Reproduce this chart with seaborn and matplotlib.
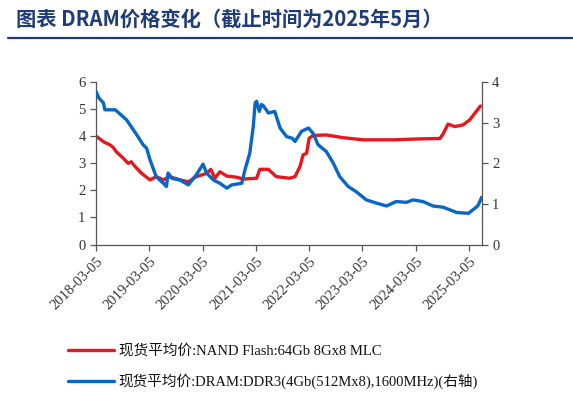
import numpy as np
import pandas as pd
import matplotlib
matplotlib.use("Agg")
import matplotlib.pyplot as plt
import matplotlib.dates as mdates
from matplotlib.lines import Line2D
import seaborn as sns

# NAND Flash 64Gb 8Gx8 MLC spot average price (left axis)
nand_dates = ["2018-03-05", "2018-04-25", "2018-06-10", "2018-07-01", "2018-07-22",
              "2018-09-08", "2018-10-12", "2018-11-02", "2018-11-28", "2019-01-12",
              "2019-03-10", "2019-04-22", "2019-06-10", "2019-07-22", "2019-10-01",
              "2019-11-28", "2020-01-22", "2020-04-01", "2020-04-30", "2020-05-28",
              "2020-07-01", "2020-08-18", "2020-10-22", "2020-12-08", "2021-03-10",
              "2021-04-01", "2021-05-30", "2021-07-22", "2021-10-22", "2021-11-28",
              "2022-01-01", "2022-01-22", "2022-02-15", "2022-03-05", "2022-04-01",
              "2022-07-01", "2022-10-22", "2023-03-10", "2023-10-01", "2024-03-10",
              "2024-08-18", "2024-09-10", "2024-10-12", "2024-11-28", "2025-01-22",
              "2025-03-10", "2025-04-22", "2025-05-22"]
nand_price = [4.01, 3.80, 3.68, 3.59, 3.43,
              3.19, 3.00, 3.06, 2.88, 2.63,
              2.39, 2.51, 2.39, 2.51, 2.39,
              2.32, 2.51, 2.63, 2.78, 2.45,
              2.69, 2.53, 2.49, 2.42, 2.45,
              2.78, 2.78, 2.51, 2.45, 2.51,
              2.88, 3.31, 3.37, 3.93, 4.03,
              4.05, 3.95, 3.87, 3.87, 3.90,
              3.92, 4.11, 4.45, 4.36, 4.42,
              4.61, 4.91, 5.12]

# DRAM DDR3 4Gb spot average price (right axis)
dram_dates = ["2018-03-05", "2018-03-25", "2018-04-25", "2018-05-05", "2018-07-15",
              "2018-10-01", "2018-12-10", "2019-01-22", "2019-02-15", "2019-03-10",
              "2019-04-22", "2019-06-10", "2019-07-01", "2019-07-12", "2019-08-08",
              "2019-10-01", "2019-11-28", "2020-01-22", "2020-03-08", "2020-04-01",
              "2020-05-18", "2020-07-01", "2020-08-18", "2020-09-20", "2020-11-28",
              "2020-12-20", "2021-01-22", "2021-02-15", "2021-02-28", "2021-03-10",
              "2021-03-28", "2021-04-12", "2021-04-25", "2021-05-30", "2021-07-12",
              "2021-08-18", "2021-10-01", "2021-11-08", "2021-11-28", "2022-01-12",
              "2022-02-28", "2022-04-01", "2022-05-05", "2022-07-01", "2022-08-18",
              "2022-10-01", "2022-11-28", "2023-01-22", "2023-04-01", "2023-06-10",
              "2023-08-18", "2023-10-22", "2024-01-01", "2024-02-15", "2024-04-22",
              "2024-07-01", "2024-09-08", "2024-12-10", "2025-03-01", "2025-04-12",
              "2025-05-05", "2025-05-30"]
dram_price = [3.77, 3.61, 3.49, 3.32, 3.32,
              3.07, 2.70, 2.46, 2.37, 2.09,
              1.67, 1.51, 1.43, 1.76, 1.63,
              1.59, 1.47, 1.72, 1.98, 1.76,
              1.59, 1.51, 1.39, 1.47, 1.51,
              1.84, 2.25, 2.91, 3.49, 3.53,
              3.28, 3.45, 3.42, 3.24, 3.28,
              2.87, 2.66, 2.62, 2.54, 2.79,
              2.87, 2.74, 2.46, 2.29, 2.00,
              1.67, 1.43, 1.30, 1.10, 1.02,
              0.95, 1.06, 1.04, 1.10, 1.06,
              0.95, 0.92, 0.79, 0.77, 0.89,
              0.96, 1.16]

tick_dates = ["2018-03-05", "2019-03-05", "2020-03-05", "2021-03-05",
              "2022-03-05", "2023-03-05", "2024-03-05", "2025-03-05"]

title = "图表 DRAM价格变化（截止时间为2025年5月）"
label_nand = "现货平均价:NAND Flash:64Gb 8Gx8 MLC"
label_dram = "现货平均价:DRAM:DDR3(4Gb(512Mx8),1600MHz)(右轴)"

RED = "#E8161F"
BLUE = "#0866C6"
NAVY = "#1F3C7A"
TXT = "#333333"

nand = pd.DataFrame({"date": pd.to_datetime(nand_dates), "price": nand_price})
dram = pd.DataFrame({"date": pd.to_datetime(dram_dates), "price": dram_price})

sns.set_style("ticks")
plt.rcParams["font.family"] = ["Liberation Serif", "Noto Sans CJK SC"]

fig = plt.figure(figsize=(5.73, 3.97), dpi=100)
ax = fig.add_axes([0.1675, 0.384, 0.673, 0.409])
ax2 = ax.twinx()

sns.lineplot(data=nand, x="date", y="price", ax=ax, color=RED, lw=2.4, legend=False)
sns.lineplot(data=dram, x="date", y="price", ax=ax2, color=BLUE, lw=2.4, legend=False)

ax.set_xlim(pd.Timestamp("2018-03-05"), pd.Timestamp("2025-05-30"))
ax.set_ylim(0, 6)
ax2.set_ylim(0, 4)
ax.set_yticks(range(0, 7))
ax2.set_yticks(range(0, 5))
ax.set_xticks(pd.to_datetime(tick_dates))
ax.xaxis.set_major_formatter(mdates.DateFormatter("%Y-%m-%d"))
ax.set_xlabel("")
ax.set_ylabel("")
ax2.set_ylabel("")

for a in (ax, ax2):
    a.spines["top"].set_visible(False)
    for s in ("left", "right", "bottom"):
        a.spines[s].set_color("#555555")
        a.spines[s].set_linewidth(0.9)
    a.tick_params(axis="both", colors="#555555", labelcolor=TXT, labelsize=10.5,
                  length=4, width=0.9, direction="out")
ax.spines["right"].set_visible(False)
ax2.spines["left"].set_visible(False)
ax2.spines["bottom"].set_visible(False)
for lab in ax.get_xticklabels():
    lab.set_rotation(45)
    lab.set_ha("right")
    lab.set_rotation_mode("anchor")

# title and rule
fig.text(0.028, 1 - 19 / 397, title, fontsize=14.6, fontweight="bold", color=NAVY,
         family=["Noto Sans CJK SC", "DejaVu Sans"], va="center", ha="left")
fig.add_artist(Line2D([8 / 573, 1.0], [1 - 38 / 397, 1 - 38 / 397],
                      color=NAVY, lw=1.6, transform=fig.transFigure))

handles = [Line2D([], [], color=RED, lw=2.4), Line2D([], [], color=BLUE, lw=2.4)]
fig.legend(handles, [label_nand, label_dram], loc="upper left",
           bbox_to_anchor=(0.095, 1 - 331 / 397), frameon=False, fontsize=10.5,
           handlelength=3.2, handletextpad=0.3, labelspacing=1.05,
           labelcolor="#111111")

fig.savefig("out.png", dpi=100)
